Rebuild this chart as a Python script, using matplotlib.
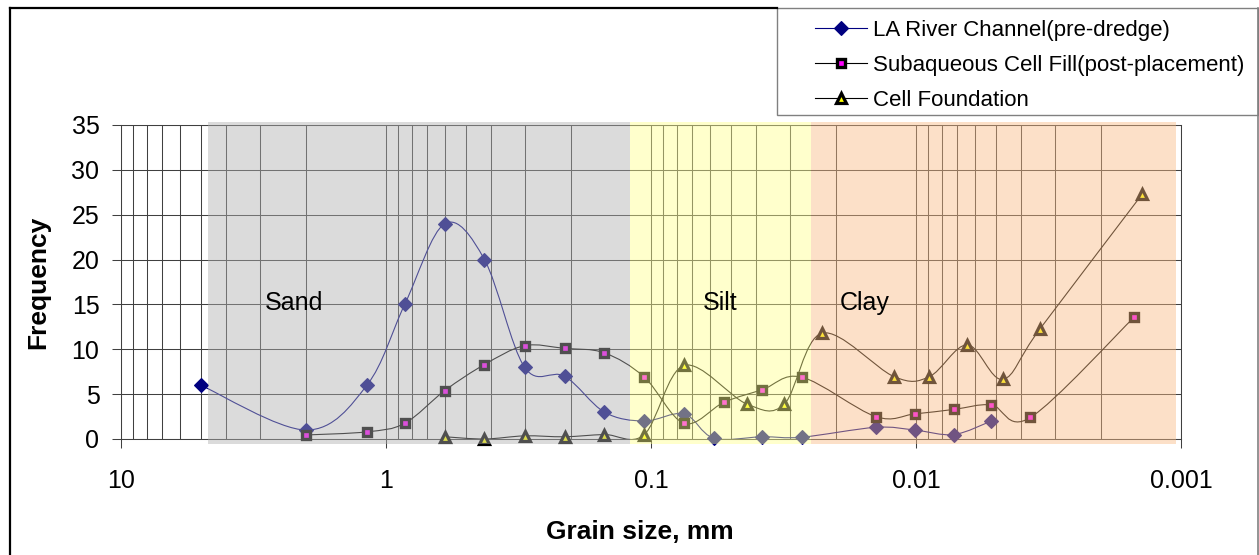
import numpy as np
import matplotlib
matplotlib.use("Agg")
import matplotlib.pyplot as plt
from matplotlib.path import Path
from matplotlib.patches import PathPatch, Rectangle
from matplotlib.lines import Line2D
from matplotlib.ticker import FixedLocator, FixedFormatter, LogLocator, NullFormatter

plt.rcParams['font.family'] = ['Liberation Sans', 'DejaVu Sans']

# LA River Channel (pre-dredge)
river_size = [5.0, 2.0, 1.18, 0.85, 0.6, 0.425, 0.3, 0.212, 0.15, 0.106, 0.075,
              0.058, 0.038, 0.027, 0.0142, 0.0101, 0.0072, 0.0052]
river_freq = [6.0, 1.0, 6.0, 15.0, 24.0, 20.0, 8.0, 7.0, 3.0, 2.0, 2.8,
              0.1, 0.25, 0.2, 1.3, 1.0, 0.5, 2.0]

# Subaqueous Cell Fill (post-placement)
fill_size = [2.0, 1.18, 0.85, 0.6, 0.425, 0.3, 0.212, 0.15, 0.106, 0.075, 0.053,
             0.038, 0.027, 0.0142, 0.0101, 0.0072, 0.0052, 0.0037, 0.0015]
fill_freq = [0.45, 0.8, 1.75, 5.4, 8.3, 10.4, 10.1, 9.6, 6.9, 1.75, 4.1,
             5.5, 6.9, 2.5, 2.8, 3.3, 3.8, 2.4, 13.6]

# Cell Foundation
found_size = [0.6, 0.425, 0.3, 0.212, 0.15, 0.106, 0.075, 0.0435, 0.0314, 0.0226,
              0.0121, 0.0089, 0.0064, 0.0047, 0.0034, 0.0014]
found_freq = [0.25, 0.0, 0.35, 0.25, 0.5, 0.5, 8.2, 3.9, 3.9, 11.8,
              6.95, 6.95, 10.5, 6.65, 12.3, 27.3]

series_labels = ['LA River Channel(pre-dredge)',
                 'Subaqueous Cell Fill(post-placement)',
                 'Cell Foundation']

# soil classes: name, coarse edge, fine edge (mm)
zone_names = ['Sand', 'Silt', 'Clay']
zone_edges = [4.7, 0.12, 0.025, 0.00104]
zone_colors = ['#b1b1b1', '#ffff8e', '#fabc85']
zone_label_x = [2.86, 0.0637, 0.0194]
zone_label_y = 15.2

x_ticks = [10, 1, 0.1, 0.01, 0.001]
x_tick_labels = ['10', '1', '0.1', '0.01', '0.001']
y_ticks = [0, 5, 10, 15, 20, 25, 30, 35]


def smooth_path(xs, ys):
    # Excel-like smoothed line: cubic Bezier segments, Catmull-Rom control points
    u = np.log10(np.asarray(xs, float))
    v = np.asarray(ys, float)
    n = len(u)
    verts = [(u[0], v[0])]
    codes = [Path.MOVETO]
    for i in range(n - 1):
        i0 = max(i - 1, 0)
        i3 = min(i + 2, n - 1)
        c1 = (u[i] + (u[i + 1] - u[i0]) / 6, v[i] + (v[i + 1] - v[i0]) / 6)
        c2 = (u[i + 1] - (u[i3] - u[i]) / 6, v[i + 1] - (v[i3] - v[i]) / 6)
        verts += [c1, c2, (u[i + 1], v[i + 1])]
        codes += [Path.CURVE4] * 3
    verts = [(10 ** a, b) for a, b in verts]
    return Path(verts, codes)


fig = plt.figure(figsize=(12.59, 5.55), dpi=100)
ax = fig.add_axes([121 / 1259, 1 - 439 / 555, (1181 - 121) / 1259, (439 - 125) / 555])

ax.set_xscale('log')
ax.set_xlim(10, 0.001)
ax.set_ylim(0, 35)

grid_col = '#404040'
ax.xaxis.set_major_locator(FixedLocator(x_ticks))
ax.xaxis.set_major_formatter(FixedFormatter(x_tick_labels))
ax.xaxis.set_minor_locator(LogLocator(base=10, subs=np.arange(2, 10)))
ax.xaxis.set_minor_formatter(NullFormatter())
ax.set_yticks(y_ticks)
ax.grid(True, which='both', color=grid_col, lw=0.75, zorder=0)
ax.set_axisbelow(True)
ax.tick_params(axis='both', which='major', direction='out', length=6.5, width=0.75,
               color=grid_col, labelsize=18)
ax.tick_params(axis='x', which='major', pad=15)
ax.tick_params(axis='y', which='major', pad=9)
ax.tick_params(axis='x', which='minor', length=0)
for sp in ax.spines.values():
    sp.set_color(grid_col)
    sp.set_linewidth(0.75)

styles = [
    dict(color='#000080', marker='D', ms=7.0, mfc='#000080', mec='#000080', mew=0.8),
    dict(color='#000000', marker='s', ms=5.6, mfc='#ff00ff', mec='#000000', mew=2.4),
    dict(color='#000000', marker='^', ms=6.6, mfc='#ffff00', mec='#000000', mew=2.3),
]
data = [(river_size, river_freq), (fill_size, fill_freq), (found_size, found_freq)]

handles = []
for (xs, ys), st, lab in zip(data, styles, series_labels):
    ax.add_patch(PathPatch(smooth_path(xs, ys), fill=False, edgecolor=st['color'],
                           lw=0.8, zorder=2))
    ax.plot(xs, ys, ls='none', marker=st['marker'], ms=st['ms'], mfc=st['mfc'],
            mec=st['mec'], mew=st['mew'], zorder=3, clip_on=False)
    handles.append(Line2D([], [], color=st['color'], lw=0.8, marker=st['marker'],
                          ms=st['ms'], mfc=st['mfc'], mec=st['mec'], mew=st['mew']))

# soil class bands drawn over the data, semi transparent
for i, name in enumerate(zone_names):
    ax.add_patch(Rectangle((zone_edges[i], -0.56), zone_edges[i + 1] - zone_edges[i], 35.95,
                           facecolor=zone_colors[i], edgecolor='none', alpha=0.45,
                           zorder=4, clip_on=False))
    ax.text(zone_label_x[i], zone_label_y, name, fontsize=18, ha='left', va='center',
            zorder=5)

fig.text(38 / 1259, 1 - 282 / 555, 'Frequency', rotation=90, ha='center', va='center',
         fontsize=19, fontweight='bold')
fig.text(640 / 1259, 1 - 532 / 555, 'Grain size, mm', ha='center', va='center',
         fontsize=19, fontweight='bold')

# chart border and legend box
fig.add_artist(Line2D([10 / 1259, 10 / 1259], [0, 1 - 8 / 555], color='black', lw=1.6,
                      transform=fig.transFigure))
fig.add_artist(Line2D([10 / 1259, 777 / 1259], [1 - 8 / 555, 1 - 8 / 555], color='black',
                      lw=1.6, transform=fig.transFigure))
fig.add_artist(Line2D([1257.5 / 1259, 1257.5 / 1259], [0, 1 - 8 / 555], color='#808080',
                      lw=1.2, transform=fig.transFigure))
fig.add_artist(Rectangle((777 / 1259, 1 - 115 / 555), (1257.5 - 777) / 1259, 107 / 555,
                         facecolor='white', edgecolor='#808080', lw=1.0,
                         transform=fig.transFigure))

fig.legend(handles, series_labels, loc='upper left', frameon=False,
           bbox_to_anchor=(815 / 1259, 1 - 20 / 555), bbox_transform=fig.transFigure,
           borderaxespad=0, borderpad=0, handlelength=2.34, handletextpad=0.27,
           labelspacing=0.63, fontsize=16)

fig.savefig('out.png', dpi=100, facecolor='white')
